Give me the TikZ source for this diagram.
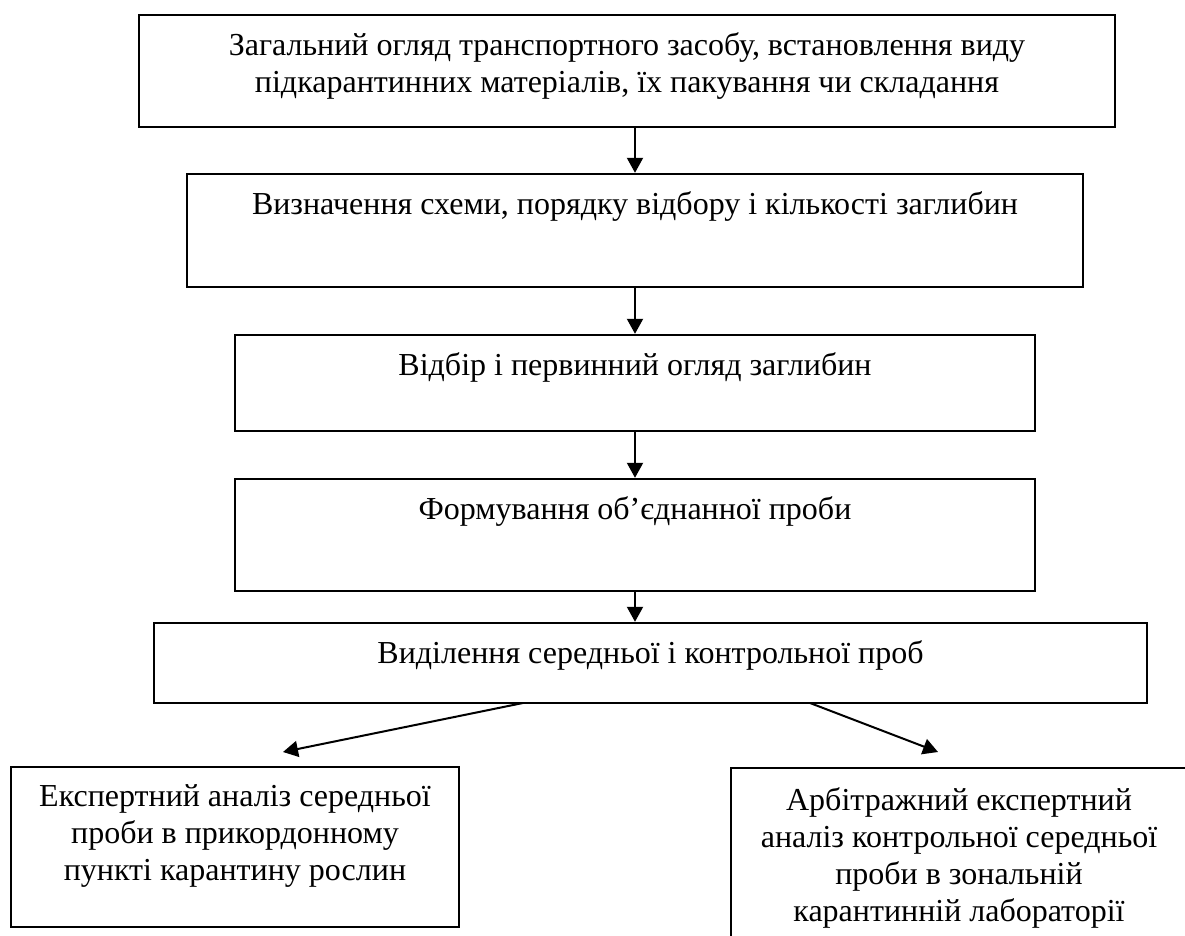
\documentclass[tikz,border=0pt]{standalone}
\usepackage{fontspec}
\setmainfont{Liberation Serif}
\usetikzlibrary{arrows.meta, positioning}

\begin{document}
\begin{tikzpicture}[x=0.5pt, y=-0.5pt, box/.style={draw, line width=1.2pt, inner sep=0pt}, txt/.style={align=center, inner sep=0pt, font=\fontsize{16}{18.5}\selectfont}, arr/.style={-{Triangle[length=7.5pt, width=8pt]}, line width=1pt}]
\useasboundingbox (0,0) rectangle (1185,936);
\node[box, minimum width=488pt, minimum height=56pt] (b1) at (627,71) {};
\node[box, minimum width=448pt, minimum height=56.5pt] (b2) at (635,230.5) {};
\node[box, minimum width=400pt, minimum height=48pt] (b3) at (635,383) {};
\node[box, minimum width=400pt, minimum height=56pt] (b4) at (635,535) {};
\node[box, minimum width=496.5pt, minimum height=40pt] (b5) at (650.5,663) {};
\node[box, minimum width=224pt, minimum height=80pt] (b6) at (235,847) {};
\node[box, minimum width=228pt, minimum height=88.5pt] (b7) at (959,856.5) {};
\node[txt, below=9pt of b1.north] (t1) {Загальний огляд транспортного засобу, встановлення виду\\підкарантинних матеріалів, їх пакування чи складання};
\node[txt, below=9pt of b2.north] (t2) {Визначення схеми, порядку відбору і кількості заглибин};
\node[txt, below=9pt of b3.north] (t3) {Відбір і первинний огляд заглибин};
\node[txt, below=9pt of b4.north] (t4) {Формування об’єднанної проби};
\node[txt, below=9pt of b5.north] (t5) {Виділення середньої і контрольної проб};
\node[txt, below=9pt of b6.north] (t6) {Експертний аналіз середньої\\проби в прикордонному\\пункті карантину рослин};
\node[txt, below=10pt of b7.north] (t7) {Арбітражний експертний\\аналіз контрольної середньої\\проби в зональній\\карантинній лабораторії};
\coordinate (s1) at (523,703);
\coordinate (e1) at (283,752);
\coordinate (s2) at (810,703);
\coordinate (e2) at (938,752);
\draw [arr] (b1.south -| b2.north) -- (b2.north);
\draw [arr] (b2.south) -- (b3.north);
\draw [arr] (b3.south) -- (b4.north);
\draw [arr] (b4.south) -- (b4.south |- b5.north);
\draw [arr] (s1) -- (e1);
\draw [arr] (s2) -- (e2);
\end{tikzpicture}
\end{document}
